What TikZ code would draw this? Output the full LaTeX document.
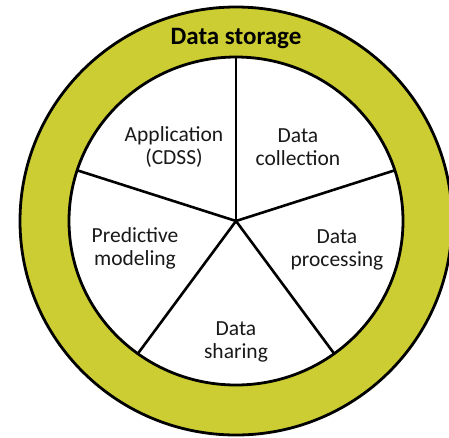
\documentclass[tikz,border=0pt]{standalone}
\usepackage{fontspec}
\setmainfont{Carlito}
\definecolor{ringcol}{RGB}{204,204,51}
\begin{document}
\begin{tikzpicture}[x=1pt,y=-1pt,
  lbl/.style={font=\fontsize{21.5}{23}\selectfont, align=center, inner sep=0pt, text=black!90},
  outline/.style={draw=black, line width=2.8pt},
  spoke/.style={draw=black, line width=2.6pt, line cap=round}]
\useasboundingbox (0,0) rectangle (449,437);
\coordinate (c) at (236,221);
\fill[ringcol, outline] (c) ellipse [x radius=216, y radius=214];
\fill[white, outline] (c) ellipse [x radius=167, y radius=164];
\coordinate (s1) at (236,57);
\coordinate (s2) at (394.8,170.3);
\coordinate (s3) at (334.2,353.7);
\coordinate (s4) at (137.8,353.7);
\coordinate (s5) at (77.2,170.3);
\foreach \s in {s1,s2,s3,s4,s5} \draw[spoke] (c) -- (\s);
\node[font=\fontsize{25}{27}\bfseries\selectfont, inner sep=0pt] (storage) at (236,39) {Data storage};
\node[lbl] (app) at (174,147) {Application\\(CDSS)};
\node[lbl] (coll) at (298,147) {Data\\collection};
\node[lbl] (proc) at (337,250) {Data\\processing};
\node[lbl] (share) at (236,342) {Data\\sharing};
\node[lbl] (pred) at (135,248) {Predictive\\modeling};
\end{tikzpicture}
\end{document}
